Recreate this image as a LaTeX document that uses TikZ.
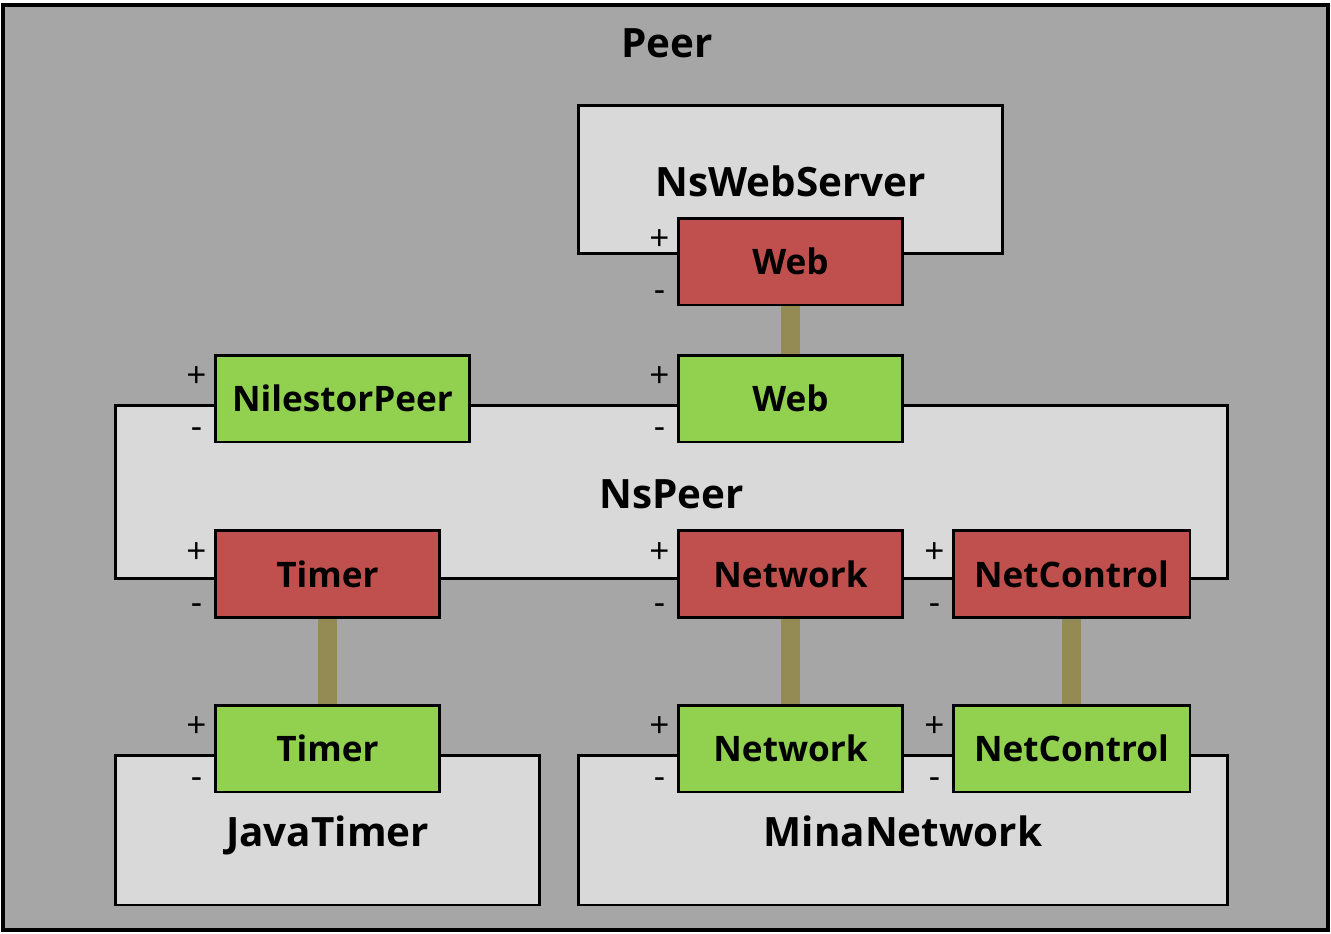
\documentclass[tikz,border=0pt]{standalone}
\usepackage{fontspec}
\setmainfont{Open Sans}
\usepackage{tikz}
\usetikzlibrary{positioning}
\definecolor{peergray}{RGB}{166,166,166}
\definecolor{compgray}{RGB}{217,217,217}
\definecolor{reqred}{RGB}{192,80,77}
\definecolor{provgreen}{RGB}{146,208,80}
\definecolor{linkkhaki}{RGB}{148,138,84}

\tikzset{
  comp/.style={draw=black, line width=1.7pt, fill=compgray, inner sep=0pt,
    text height=22pt, text depth=3pt,
    font=\fontsize{23}{26}\selectfont\bfseries},
  port/.style={draw=black, line width=1.7pt, inner sep=0pt,
    minimum width=4.5cm, minimum height=1.74cm,
    font=\fontsize{20}{24}\selectfont\bfseries},
  req/.style={port, fill=reqred},
  prov/.style={port, fill=provgreen},
  sign/.style={font=\fontsize{20}{22}\selectfont, inner sep=0pt},
  link/.style={linkkhaki, line width=0.38cm}
}

\begin{document}
\begin{tikzpicture}[x=0.02cm, y=-0.02cm]
  \useasboundingbox (0,0) rectangle (1331,933);
  % outer peer
  \draw[line width=2.3pt, fill=peergray] (3,5) rectangle (1328,930);
  \node[font=\fontsize{23}{26}\selectfont\bfseries] (peer) at (667,43) {Peer};

  % components
  \node[comp, minimum width=8.5cm, minimum height=2.98cm] (nsweb) at (790.5,179.5) {NsWebServer};
  \node[comp, minimum width=22.26cm, minimum height=3.48cm] (nspeer) at (671.5,492) {NsPeer};
  \node[comp, minimum width=8.5cm, minimum height=3cm] (javatimer) at (327.5,830) {JavaTimer};
  \node[comp, minimum width=13cm, minimum height=3cm] (mina) at (903,830) {MinaNetwork};

  % ports
  \node[req] (webr) at (790.5,261.5) {Web};
  \node[prov] (webp) at (790.5,398.5) {Web};
  \node[prov, minimum width=5.1cm] (nilestor) at (342.5,398.5) {NilestorPeer};
  \node[req] (timerr) at (327.5,574) {Timer};
  \node[req] (netr) at (790.5,574) {Network};
  \node[req, minimum width=4.74cm] (ctrlr) at (1071.5,574) {NetControl};
  \node[prov] (timerp) at (327.5,748.5) {Timer};
  \node[prov] (netp) at (790.5,748.5) {Network};
  \node[prov, minimum width=4.74cm] (ctrlp) at (1071.5,748.5) {NetControl};

  % bindings
  \draw[link] (webr.south) -- (webp.north);
  \draw[link] (timerr.south) -- (timerp.north);
  \draw[link] (netr.south) -- (netp.north);
  \draw[link] (ctrlr.south) -- (ctrlp.north);

  % signs
  \node[sign] (webr-p) at ([shift={(-17,24)}]webr.north west) {+};
  \node[sign] (webr-m) at ([shift={(-17,-10)}]webr.south west) {-};
  \node[sign] (webp-p) at ([shift={(-17,24)}]webp.north west) {+};
  \node[sign] (webp-m) at ([shift={(-17,-10)}]webp.south west) {-};
  \node[sign] (nilestor-p) at ([shift={(-17,24)}]nilestor.north west) {+};
  \node[sign] (nilestor-m) at ([shift={(-17,-10)}]nilestor.south west) {-};
  \node[sign] (timerr-p) at ([shift={(-17,24)}]timerr.north west) {+};
  \node[sign] (timerr-m) at ([shift={(-17,-10)}]timerr.south west) {-};
  \node[sign] (netr-p) at ([shift={(-17,24)}]netr.north west) {+};
  \node[sign] (netr-m) at ([shift={(-17,-10)}]netr.south west) {-};
  \node[sign] (ctrlr-p) at ([shift={(-17,24)}]ctrlr.north west) {+};
  \node[sign] (ctrlr-m) at ([shift={(-17,-10)}]ctrlr.south west) {-};
  \node[sign] (timerp-p) at ([shift={(-17,24)}]timerp.north west) {+};
  \node[sign] (timerp-m) at ([shift={(-17,-10)}]timerp.south west) {-};
  \node[sign] (netp-p) at ([shift={(-17,24)}]netp.north west) {+};
  \node[sign] (netp-m) at ([shift={(-17,-10)}]netp.south west) {-};
  \node[sign] (ctrlp-p) at ([shift={(-17,24)}]ctrlp.north west) {+};
  \node[sign] (ctrlp-m) at ([shift={(-17,-10)}]ctrlp.south west) {-};
\end{tikzpicture}
\end{document}
